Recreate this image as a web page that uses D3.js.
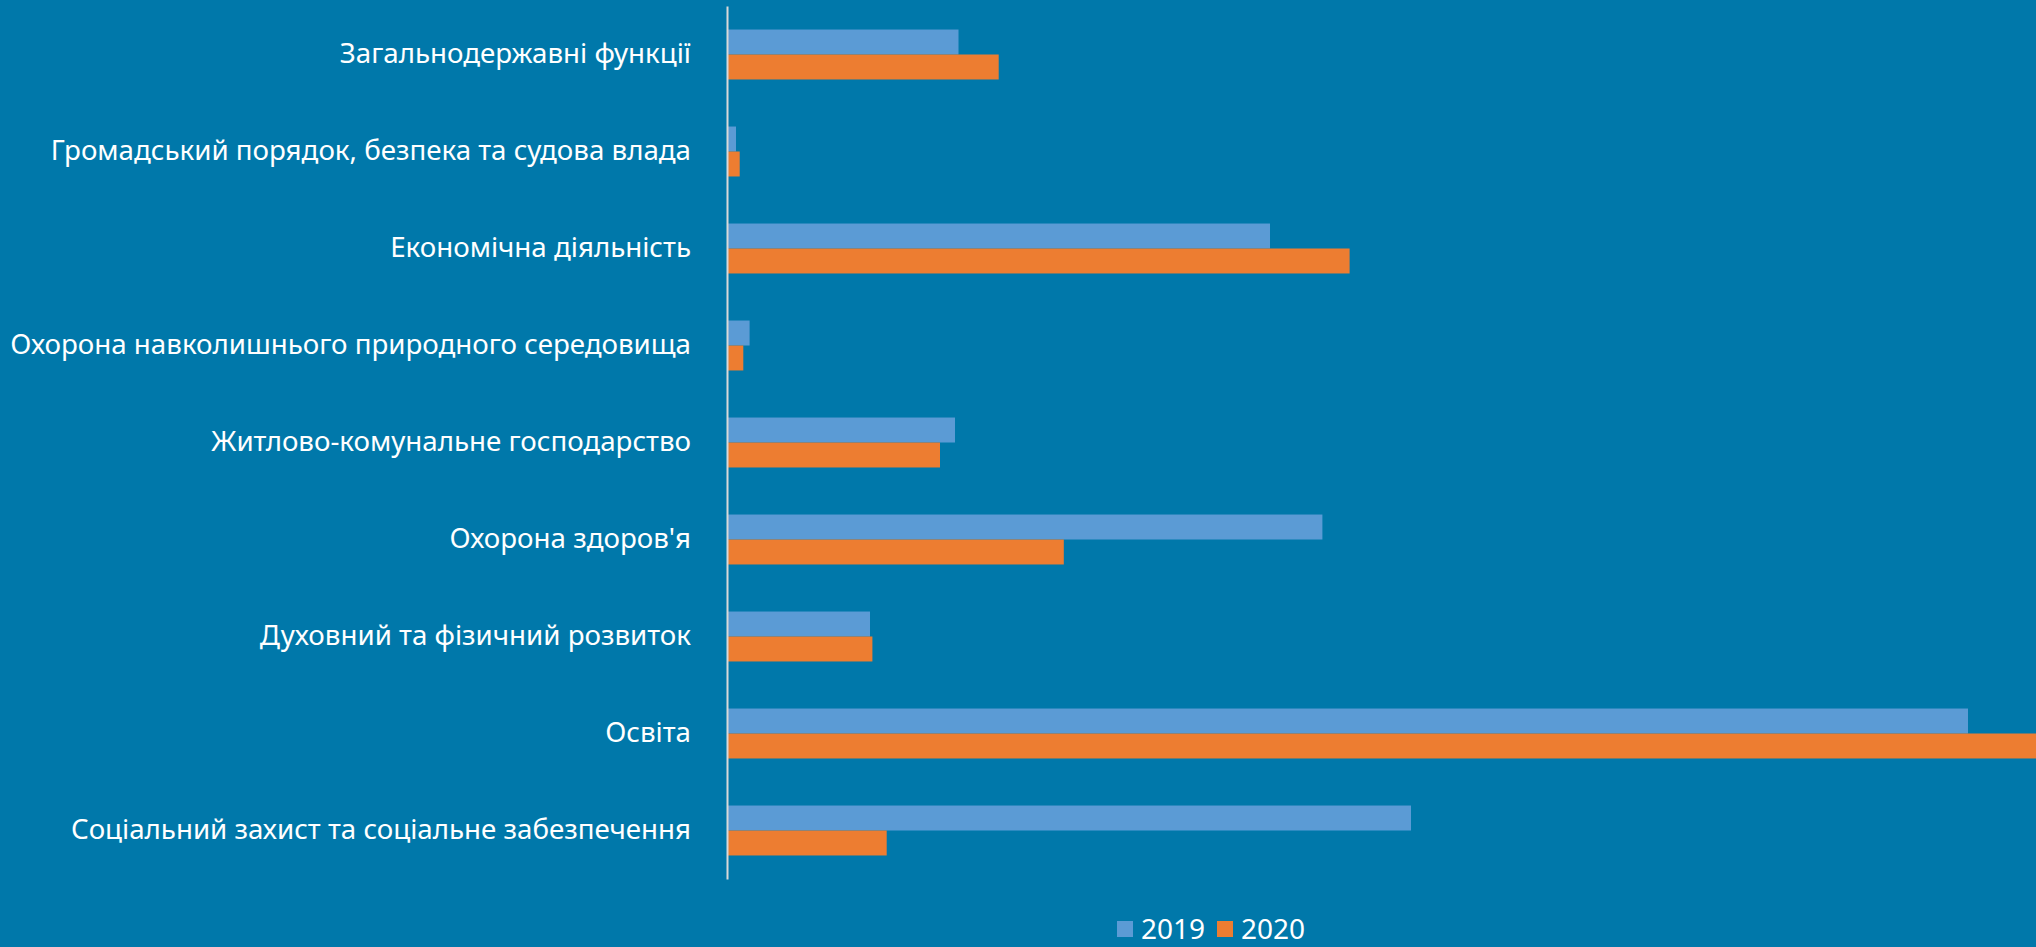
<!DOCTYPE html>
<html>
<head>
<meta charset="utf-8">
<script src="https://cdn.jsdelivr.net/npm/d3@7"></script>
<style>
  body { margin: 0; background: #0078aa; overflow: hidden; }
  text { font-family: "Noto Sans", sans-serif; fill: #fff; }
</style>
</head>
<body>
<div id="chart"></div>
<script>
// categories, top to bottom
var categories = [
  "Загальнодержавні функції",
  "Громадський порядок, безпека та судова влада",
  "Економічна діяльність",
  "Охорона навколишнього природного середовища",
  "Житлово-комунальне господарство",
  "Охорона здоров'я",
  "Духовний та фізичний розвиток",
  "Освіта",
  "Соціальний захист та соціальне забезпечення"
];
var series = ["2019", "2020"];
var values2019 = [23.05, 0.8, 54.2, 2.16, 22.7, 59.44, 14.2, 124.0, 68.3];
var values2020 = [27.07, 1.17, 62.16, 1.53, 21.2, 33.58, 14.44, 135.0, 15.87];
var colors = ["#5b9bd5", "#ed7d31"];

var width = 2036, height = 947;
var axisX = 727;

var svg = d3.select("#chart").append("svg")
    .attr("width", width)
    .attr("height", height);

var data = categories.map(function(c, i) {
  return {cat: c, vals: [values2019[i], values2020[i]]};
});

var y = d3.scaleBand()
    .domain(categories)
    .range([6, 879])
    .paddingInner(0.485)
    .paddingOuter(0.2425);

var ySub = d3.scaleBand()
    .domain(series)
    .range([0, y.bandwidth()]);

var x = d3.scaleLinear()
    .domain([0, 130])
    .range([axisX + 1, axisX + 1 + 1300]);

var color = d3.scaleOrdinal().domain(series).range(colors);

//bars
var groups = svg.selectAll("g.cat")
    .data(data)
    .enter()
    .append("g")
    .attr("class", "cat")
    .attr("transform", d => "translate(0," + y(d.cat) + ")");

groups.selectAll("rect")
    .data(d => d.vals.map((v, j) => ({key: series[j], v: v})))
    .enter()
    .append("rect")
    .attr("x", x(0))
    .attr("y", d => ySub(d.key))
    .attr("width", d => x(d.v) - x(0))
    .attr("height", ySub.bandwidth())
    .attr("fill", d => color(d.key));

//category axis
var yAxis = svg.append("g")
    .attr("transform", "translate(" + axisX + ",0)")
    .call(d3.axisLeft(y).tickSize(0).tickPadding(36));

yAxis.select(".domain")
    .attr("stroke", "#d9d9d9")
    .attr("stroke-width", 2);

yAxis.selectAll("text")
    .attr("font-size", 27.7)
    .attr("font-family", "Noto Sans")
    .attr("fill", "#fff");

//legend
var legend = svg.append("g")
    .attr("transform", "translate(1117,921)");

var items = legend.selectAll("g")
    .data(series)
    .enter()
    .append("g")
    .attr("transform", (d, i) => "translate(" + i * 100 + ",0)");

items.append("rect")
    .attr("width", 16)
    .attr("height", 16)
    .attr("fill", d => color(d));

items.append("text")
    .attr("x", 24)
    .attr("y", 18)
    .attr("font-size", 28)
    .text(d => d);
</script>
</body>
</html>
